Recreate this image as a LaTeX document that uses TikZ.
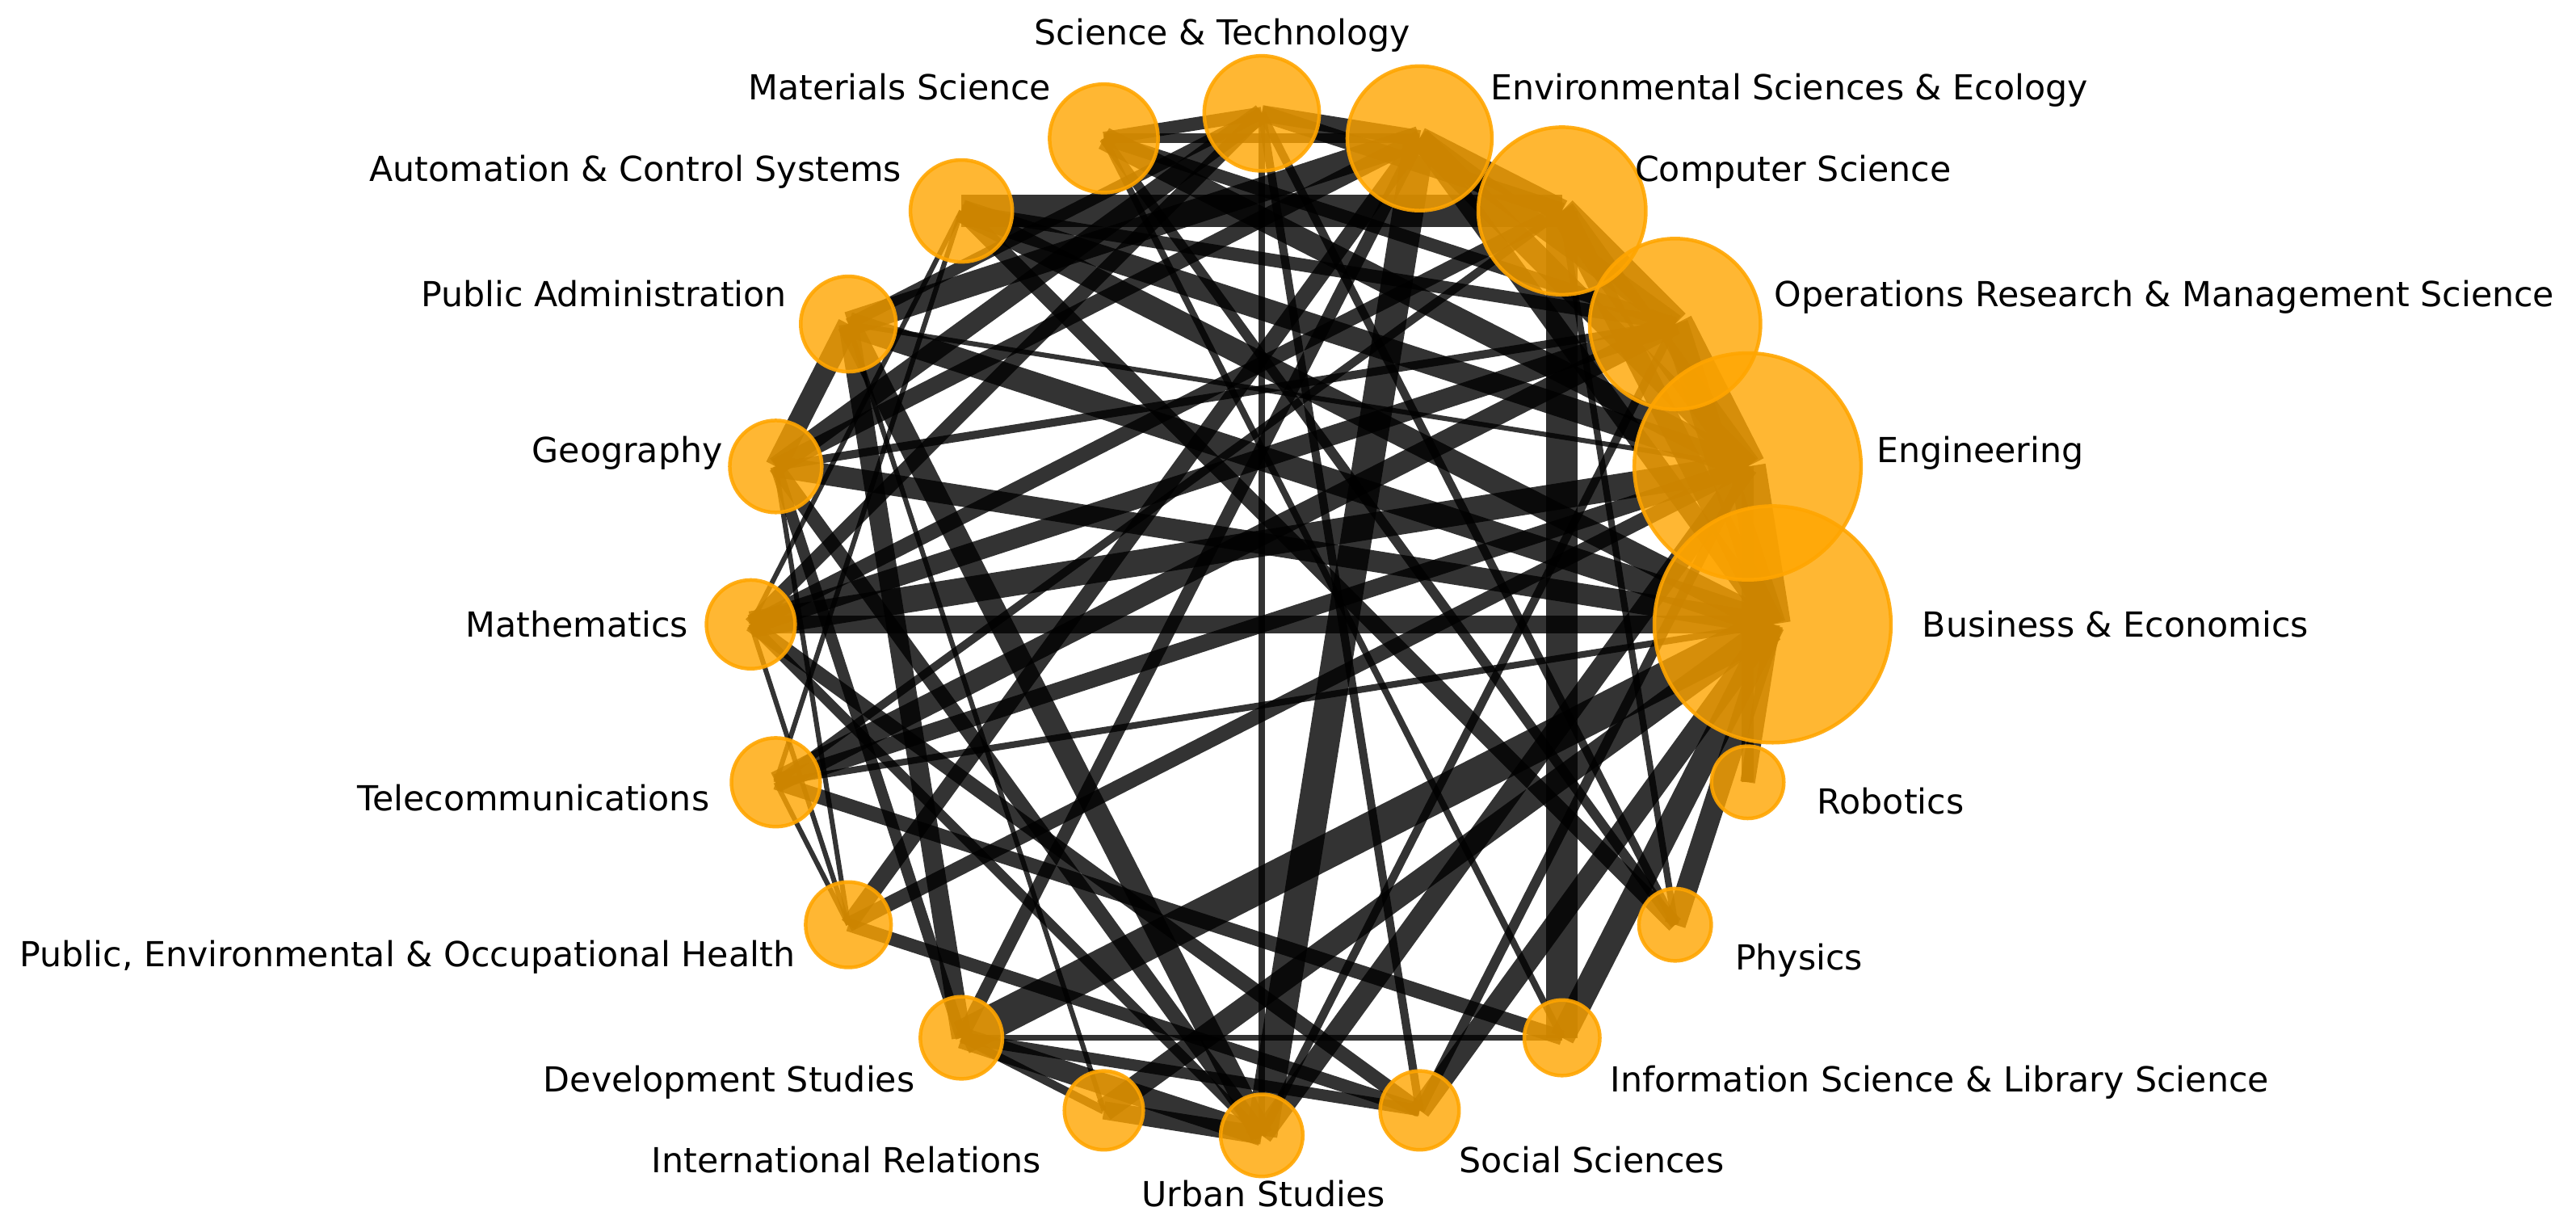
\documentclass[tikz,border=0pt]{standalone}
\usepackage{fontspec}
\setmainfont{DejaVu Sans}
\usetikzlibrary{calc}
\pgfdeclarelayer{bg}
\pgfsetlayers{bg,main}
\definecolor{nodeor}{RGB}{255,165,0}
\tikzset{
  field/.style={circle, inner sep=0pt, fill=nodeor, fill opacity=0.8, draw=nodeor, draw opacity=0.9, line width=2.2pt},
  lab/.style={font=\fontsize{21}{25}\selectfont, text=black, inner sep=0pt},
  link/.style={draw=black, draw opacity=0.8},
}
\begin{document}
\begin{tikzpicture}[x=1pt,y=1pt]
\useasboundingbox (0,0) rectangle (1568,747);
\coordinate (c) at (768,367);
% nodes on a circle, Business & Economics at 0 deg, counter-clockwise
\node[field, minimum size=144pt] (BE) at ($(c)+(0:311)$) {};
\node[field, minimum size=138pt] (EN) at ($(c)+(18:311)$) {};
\node[field, minimum size=104pt] (OR) at ($(c)+(36:311)$) {};
\node[field, minimum size=102pt] (CS) at ($(c)+(54:311)$) {};
\node[field, minimum size=88pt] (ES) at ($(c)+(72:311)$) {};
\node[field, minimum size=70pt] (ST) at ($(c)+(90:311)$) {};
\node[field, minimum size=66pt] (MS) at ($(c)+(108:311)$) {};
\node[field, minimum size=62pt] (AC) at ($(c)+(126:311)$) {};
\node[field, minimum size=58pt] (PA) at ($(c)+(144:311)$) {};
\node[field, minimum size=56pt] (GE) at ($(c)+(162:311)$) {};
\node[field, minimum size=54pt] (MA) at ($(c)+(180:311)$) {};
\node[field, minimum size=54pt] (TE) at ($(c)+(198:311)$) {};
\node[field, minimum size=52pt] (PH) at ($(c)+(216:311)$) {};
\node[field, minimum size=50pt] (DS) at ($(c)+(234:311)$) {};
\node[field, minimum size=48pt] (IR) at ($(c)+(252:311)$) {};
\node[field, minimum size=50pt] (US) at ($(c)+(270:311)$) {};
\node[field, minimum size=48pt] (SS) at ($(c)+(288:311)$) {};
\node[field, minimum size=46pt] (IS) at ($(c)+(306:311)$) {};
\node[field, minimum size=44pt] (PY) at ($(c)+(324:311)$) {};
\node[field, minimum size=44pt] (RO) at ($(c)+(342:311)$) {};

\begin{pgfonlayer}{bg}
\foreach \a/\b/\w in {
  EN/BE/22, OR/EN/22, OR/BE/16, CS/OR/18, CS/EN/16, CS/BE/14,
  ES/CS/14, ES/OR/12, ES/EN/14, ES/BE/12, ST/ES/10, ST/CS/10,
  MS/ST/8, MS/ES/6, MS/OR/8, MS/EN/14, MS/PY/6, MS/IS/4,
  AC/CS/20, AC/EN/14, AC/BE/14, AC/OR/8, AC/MA/3, AC/TE/3,
  PA/ST/7, PA/ES/15, PA/BE/15, PA/EN/3, PA/DS/12, PA/US/14, PA/GE/13, PA/IR/3,
  GE/BE/13, GE/ST/12, GE/ES/10, GE/DS/7, GE/US/9, GE/PH/3,
  MA/BE/11, MA/EN/16, MA/OR/12, MA/CS/9, MA/ST/9, MA/PH/3, MA/SS/9, MA/US/6,
  TE/OR/13, TE/EN/10, TE/BE/4, TE/IS/9, TE/PH/3, TE/CS/5,
  PH/ES/10, PH/EN/9, PH/SS/8,
  DS/BE/21, DS/ES/8, DS/US/13, DS/IR/5, DS/SS/7, DS/IS/3.5,
  IR/BE/14, IR/US/11,
  US/ST/3.5, US/ES/19, US/OR/5, US/EN/13,
  SS/ST/5, SS/BE/13, SS/EN/6,
  IS/CS/19, IS/BE/15,
  PY/ST/5, PY/CS/4, PY/BE/13, PY/AC/10,
  RO/BE/9, RO/EN/7, GE/OR/5}
  \draw[link, line width=\w pt] (\a.center) -- (\b.center);
\end{pgfonlayer}

% labels
\node[lab, anchor=base] (STl) at (744,719.5) {Science \& Technology};
\node[lab, anchor=base east] (MSl) at (640,686.5) {Materials Science};
\node[lab, anchor=base west] (ESl) at (907,686.5) {Environmental Sciences \& Ecology};
\node[lab, anchor=base east] (ACl) at (549,636.5) {Automation \& Control Systems};
\node[lab, anchor=base west] (CSl) at (995,636.5) {Computer Science};
\node[lab, anchor=base east] (PAl) at (479,560.5) {Public Administration};
\node[lab, anchor=base west] (ORl) at (1080,560.5) {Operations Research \& Management Science};
\node[lab, anchor=base east] (GEl) at (440,465.5) {Geography};
\node[lab, anchor=base west] (ENl) at (1142,465.5) {Engineering};
\node[lab, anchor=base east] (MAl) at (419,359.5) {Mathematics};
\node[lab, anchor=base west] (BEl) at (1170,359.5) {Business \& Economics};
\node[lab, anchor=base east] (TEl) at (432,253.5) {Telecommunications};
\node[lab, anchor=base west] (ROl) at (1106,251.5) {Robotics};
\node[lab, anchor=base east] (PHl) at (484,158.5) {Public, Environmental \& Occupational Health};
\node[lab, anchor=base west] (PYl) at (1056,156.5) {Physics};
\node[lab, anchor=base east] (DSl) at (557,82.5) {Development Studies};
\node[lab, anchor=base west] (ISl) at (980,82.5) {Information Science \& Library Science};
\node[lab, anchor=base east] (IRl) at (634,33.5) {International Relations};
\node[lab, anchor=base west] (SSl) at (888,33.5) {Social Sciences};
\node[lab, anchor=base] (USl) at (769,12.5) {Urban Studies};
\end{tikzpicture}
\end{document}
